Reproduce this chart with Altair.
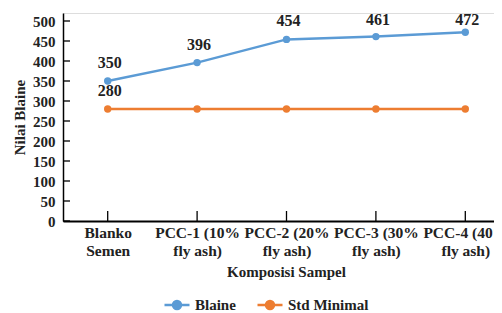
import altair as alt
import pandas as pd

categories = ["Blanko\nSemen", "PCC-1 (10%\nfly ash)", "PCC-2 (20%\nfly ash)",
              "PCC-3 (30%\nfly ash)", "PCC-4 (40%\nfly ash)"]
blaine = [350, 396, 454, 461, 472]
std_minimal = [280, 280, 280, 280, 280]
series_names = ["Blaine", "Std Minimal"]
series_colors = ["#5B9BD5", "#ED7D31"]
y_ticks = [0, 50, 100, 150, 200, 250, 300, 350, 400, 450, 500]

rows = []
for c, v in zip(categories, blaine):
    rows.append({"cat": c, "series": "Blaine", "value": v, "first": c == categories[0]})
for c, v in zip(categories, std_minimal):
    rows.append({"cat": c, "series": "Std Minimal", "value": v, "first": c == categories[0]})
df = pd.DataFrame(rows)
tick_df = pd.DataFrame({"value": y_ticks})
cat_df = pd.DataFrame({"cat": categories})

FONT = "Liberation Serif"
W, H = 431, 208
XR = 447  # x range continues past the visible edge, as in the reference

xscale = alt.Scale(type="point", padding=0.5, domain=categories, range=[0, XR])
yscale = alt.Scale(domain=[0, 520], nice=False)

x_axis = alt.Axis(labelExpr="split(datum.label, '\\n')", labelAngle=0,
                  labelAlign="center", labelBaseline="top",
                  labelFont=FONT, labelFontWeight="bold", labelFontSize=15.5,
                  labelColor="#222", labelLineHeight=18, labelPadding=4,
                  labelOverlap=False, labelLimit=200,
                  tickSize=0, domainColor="#000", domainWidth=1.8,
                  titleFont=FONT, titleFontWeight="bold", titleFontSize=15,
                  titleColor="#222", titlePadding=6, titleX=223, grid=False)
y_axis = alt.Axis(values=y_ticks, labelFont=FONT, labelFontWeight="bold",
                  labelFontSize=15, labelColor="#222", labelPadding=8,
                  labelOverlap=False, labelFlush=False,
                  tickSize=0, domainColor="#000", domainWidth=1.5,
                  titleFont=FONT, titleFontWeight="bold", titleFontSize=15,
                  titleColor="#222", titlePadding=5, grid=False)


def xe():
    return alt.X("cat:N", sort=categories, scale=xscale, title="Komposisi Sampel", axis=x_axis)


def ye(field="value:Q"):
    return alt.Y(field, scale=yscale, title="Nilai Blaine", axis=y_axis)


legend_path = ("M-1,0L1,0M-0.32,0A0.32,0.32,0,1,1,0.32,0"
               "A0.32,0.32,0,1,1,-0.32,0")
legend = alt.Legend(title=None, orient="none", legendX=100, legendY=278,
                    direction="horizontal", symbolType=legend_path,
                    symbolSize=625, symbolStrokeWidth=2.5,
                    labelFont=FONT, labelFontWeight="bold",
                    labelFontSize=15, labelColor="#222",
                    labelOffset=4, columnPadding=16)
cscale = alt.Scale(domain=series_names, range=series_colors)
color_enc = alt.Color("series:N", scale=cscale, legend=legend)

base = alt.Chart(df)
lines = base.mark_line(strokeWidth=2.5).encode(x=xe(), y=ye(), color=color_enc)
points = base.mark_point(size=55, opacity=1, filled=True, strokeWidth=2.5).encode(
    x=xe(), y=ye(), color=color_enc)
labels = base.transform_filter(
    "datum.series == 'Blaine' || datum.first"
).transform_calculate(
    ly="min(datum.value + 45, 502)"
).mark_text(font=FONT, fontWeight="bold", fontSize=16, color="#222", dx=2,
            baseline="middle").encode(
    x=xe(), y=ye("ly:Q"), text=alt.Text("value:Q"))

yticks = alt.Chart(tick_df).mark_rule(color="#000", strokeWidth=1.3).encode(
    y=ye(), x=alt.value(0), x2=alt.value(7))
xticks = alt.Chart(cat_df).mark_rule(color="#000", strokeWidth=1.3).encode(
    x=xe(), y=alt.value(H - 10), y2=alt.value(H))

chart = alt.layer(lines, yticks, xticks, points, labels).properties(
    width=W, height=H, autosize=alt.AutoSizeParams(type="none"),
    padding={"left": 55, "top": 5, "right": 0, "bottom": 92}
).configure_view(stroke=None).configure(background="white")

chart.save("out.html", embed_options={"renderer": "svg", "actions": False})
